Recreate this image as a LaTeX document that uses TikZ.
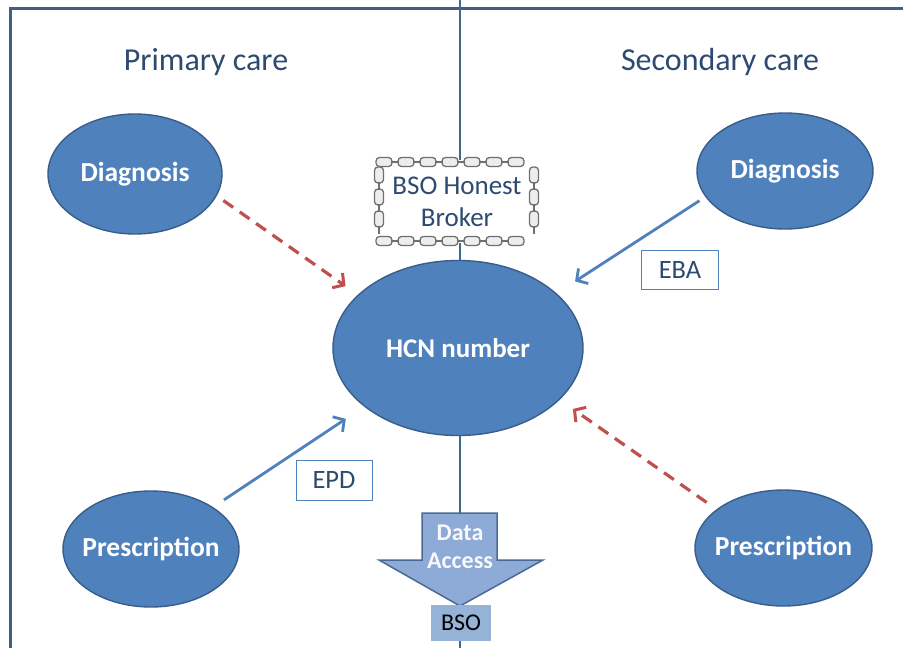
\documentclass[tikz,border=0pt]{standalone}
\usepackage{fontspec}
\setmainfont{Carlito}
\usetikzlibrary{shapes.geometric,arrows.meta}
\definecolor{ellfill}{HTML}{4F81BD}
\definecolor{elldraw}{HTML}{385D8A}
\definecolor{titlecol}{HTML}{2E4A70}
\definecolor{framecol}{HTML}{3F5F85}
\definecolor{linecol}{HTML}{3E6A8E}
\definecolor{redarr}{HTML}{C0504D}
\definecolor{bluearr}{HTML}{4F81BD}
\definecolor{dafill}{HTML}{8EAAD6}
\definecolor{dadraw}{HTML}{4A6A95}
\definecolor{bsofill}{HTML}{95B3D7}
\definecolor{chaincol}{HTML}{707070}
\definecolor{chainfill}{HTML}{EDEDED}
\tikzset{
  ell/.style={ellipse, fill=ellfill, draw=elldraw, line width=1.4pt, inner sep=0pt},
  elltext/.style={text=white, font=\fontsize{27.5}{32}\selectfont\bfseries, inner sep=0pt},
  ttl/.style={text=titlecol, font=\fontsize{32}{36}\selectfont},
  lbl/.style={draw=bluearr, line width=0.8pt, fill=white, text=titlecol,
    font=\fontsize{26.5}{30}\selectfont, inner sep=0pt},
  redflow/.style={draw=redarr, line width=3.2pt, dash pattern=on 12pt off 8pt,
    -{Straight Barb[length=8pt,width=18pt,line width=3pt]}},
  blueflow/.style={draw=bluearr, line width=2.8pt,
    -{Straight Barb[length=8pt,width=18pt,line width=2.8pt]}},
  cline/.style={draw=linecol, line width=1.3pt},
  hlink/.style={draw=chaincol, fill=chainfill, line width=1.3pt, rounded corners=3.5pt},
  flat/.style={draw=chaincol, line width=1.6pt},
}
\begin{document}
\begin{tikzpicture}[x=1pt,y=-1pt]
\useasboundingbox (0,0) rectangle (903,648);
\fill[white] (0,0) rectangle (903,648);
% frame
\draw[draw=framecol, line width=3pt] (903,8) -- (10,8) -- (10,648);
% titles
\node[ttl] (tprim) at (206,62) {Primary care};
\node[ttl] (tsec) at (720,62) {Secondary care};
% ellipses
\node[ell, minimum width=174pt, minimum height=120pt,
      label={[elltext]center:Diagnosis}] (dl) at (135,174) {};
\node[ell, minimum width=176pt, minimum height=116pt,
      label={[elltext]center:Diagnosis}] (dr) at (785,171) {};
\node[ell, minimum width=250pt, minimum height=175pt,
      label={[elltext, font=\fontsize{27}{32}\selectfont\bfseries]center:HCN number}] (hcn) at (458,348) {};
\node[ell, minimum width=176pt, minimum height=116pt,
      label={[elltext]center:Prescription}] (pl) at (151,549) {};
\node[ell, minimum width=177pt, minimum height=116pt,
      label={[elltext]center:Prescription}] (pr) at (783.5,548) {};
% coordinates for centre line
\coordinate (ctop) at (460,0);
\coordinate (cbot) at (460,648);
% broker box
\node[fill=white, minimum width=161pt, minimum height=83pt, inner sep=0pt,
      align=center, text=titlecol, font=\fontsize{27}{32}\selectfont] (broker) at (457,201.5)
      {BSO Honest\\Broker};
% chain border
\foreach \x in {384,406,...,530} {
  \draw[hlink] (\x-8,157.5) rectangle (\x+8,166.5);
  \draw[hlink] (\x-8,236.5) rectangle (\x+8,245.5);
}
\foreach \x in {395,417,...,519} {
  \draw[flat] (\x-4,162) -- (\x+4,162);
  \draw[flat] (\x-4,241) -- (\x+4,241);
}
\foreach \y in {175,197,219} {
  \draw[hlink] (374.5,\y-8) rectangle (383.5,\y+8);
  \draw[hlink] (529.5,\y-8) rectangle (538.5,\y+8);
}
\foreach \y in {186,208,230} {
  \draw[flat] (379,\y-4) -- (379,\y+4);
  \draw[flat] (534,\y-4) -- (534,\y+4);
}
% data access arrow
\draw[fill=dafill, draw=dadraw, line width=1.5pt]
  (422,513) -- (497,513) -- (497,560) -- (543,560) -- (460,606) -- (379,560) -- (422,560) -- cycle;
\node[text=white!92!dafill, font=\fontsize{24}{28}\selectfont\bfseries, align=center] (da) at (460,547) {Data\\Access};
\coordinate (datop) at (460,513);
\node[fill=bsofill, minimum width=60pt, minimum height=36pt, inner sep=0pt,
      font=\fontsize{24}{26}\selectfont, text=black] (bso) at (461,623) {BSO};
% centre line
\draw[cline] (ctop) -- (broker.north -| ctop);
\draw[cline] (broker.south -| ctop) -- (hcn.north -| ctop);
\draw[cline] (hcn.south -| ctop) -- (datop);
\draw[cline] (bso.south -| ctop) -- (cbot);
% labels
\node[lbl, minimum width=77pt, minimum height=39pt] (eba) at (680,269.5) {EBA};
\node[lbl, minimum width=76pt, minimum height=40pt] (epd) at (334,480) {EPD};
% arrows
\draw[redflow, shorten <=8pt, shorten >=15pt] (dl.-15) -- (hcn.152);
\draw[blueflow, shorten <=13pt, shorten >=22pt] (pl.34) -- (hcn.212);
\draw[blueflow, shorten <=7pt, shorten >=22pt] (dr.198) -- (hcn.29);
\draw[redflow, shorten <=12pt, shorten >=16pt] (pr.150) -- (hcn.-27);
\end{tikzpicture}
\end{document}
